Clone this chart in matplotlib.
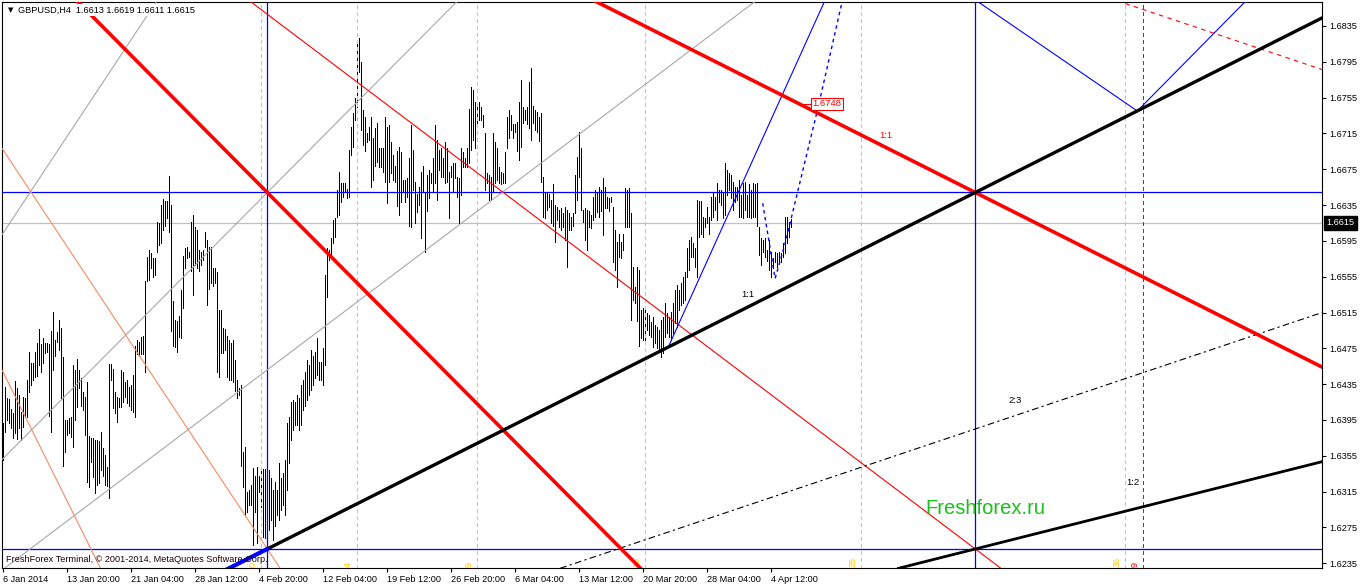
import numpy as np
import matplotlib.pyplot as plt
from matplotlib import transforms

# GBPUSD H4 bars, high / low in pips (price x 10000)
high_pips = [
    16392, 16432, 16419, 16418, 16407, 16403, 16438, 16431, 16423, 16404,
    16421, 16419, 16440, 16471, 16459, 16459, 16471, 16481, 16497, 16480,
    16487, 16481, 16481, 16480, 16494, 16516, 16484, 16493, 16507, 16498,
    16465, 16395, 16395, 16397, 16398, 16456, 16451, 16463, 16451, 16442,
    16426, 16421, 16437, 16377, 16375, 16375, 16373, 16373, 16371, 16382,
    16364, 16356, 16342, 16458, 16458, 16452, 16426, 16421, 16419, 16451,
    16449, 16437, 16440, 16432, 16434, 16445, 16478, 16484, 16482, 16488,
    16489, 16550, 16577, 16585, 16582, 16576, 16576, 16616, 16615, 16635,
    16642, 16639, 16639, 16667, 16635, 16528, 16507, 16505, 16511, 16540,
    16578, 16587, 16588, 16583, 16616, 16624, 16610, 16607, 16585, 16583,
    16585, 16605, 16596, 16588, 16588, 16565, 16565, 16560, 16518, 16518,
    16498, 16497, 16489, 16484, 16481, 16484, 16462, 16440, 16431, 16434,
    16359, 16365, 16315, 16317, 16322, 16341, 16333, 16342, 16332, 16339,
    16340, 16340, 16320, 16339, 16330, 16317, 16326, 16317, 16347, 16330,
    16336, 16350, 16392, 16398, 16415, 16417, 16415, 16423, 16419, 16434,
    16440, 16449, 16462, 16456, 16473, 16467, 16471, 16487, 16460, 16460,
    16475, 16557, 16587, 16585, 16598, 16618, 16621, 16652, 16672, 16660,
    16660, 16660, 16653, 16697, 16722, 16738, 16755, 16819, 16821, 16795,
    16741, 16733, 16715, 16722, 16733, 16710, 16721, 16727, 16699, 16699,
    16699, 16733, 16722, 16724, 16705, 16691, 16679, 16695, 16700, 16694,
    16663, 16663, 16665, 16687, 16724, 16697, 16661, 16647, 16655, 16672,
    16679, 16650, 16669, 16674, 16671, 16687, 16724, 16708, 16697, 16699,
    16687, 16705, 16699, 16672, 16679, 16682, 16682, 16666, 16665, 16699,
    16694, 16687, 16699, 16742, 16767, 16763, 16750, 16744, 16750, 16744,
    16736, 16715, 16671, 16669, 16666, 16715, 16705, 16699, 16677, 16672,
    16671, 16694, 16733, 16741, 16736, 16725, 16725, 16728, 16750, 16775,
    16744, 16741, 16744, 16772, 16788, 16746, 16741, 16739, 16733, 16738,
    16666, 16649, 16650, 16647, 16641, 16658, 16635, 16633, 16630, 16632,
    16626, 16633, 16630, 16626, 16622, 16626, 16669, 16689, 16716, 16699,
    16630, 16632, 16630, 16628, 16624, 16644, 16652, 16649, 16655, 16652,
    16665, 16655, 16644, 16643, 16644, 16633, 16607, 16594, 16603, 16594,
    16603, 16654, 16652, 16654, 16626, 16566, 16543, 16566, 16563, 16518,
    16520, 16518, 16515, 16512, 16504, 16510, 16501, 16499, 16496, 16507,
    16510, 16526, 16515, 16510, 16516, 16526, 16540, 16546, 16540, 16548,
    16555, 16560, 16587, 16596, 16599, 16593, 16587, 16641, 16639, 16639,
    16622, 16621, 16633, 16622, 16644, 16650, 16644, 16660, 16652, 16652,
    16649, 16682, 16674, 16671, 16669, 16661, 16655, 16655, 16663, 16646,
    16660, 16661, 16646, 16658, 16652, 16660, 16658, 16660, 16610, 16598,
    16596, 16598, 16585, 16596, 16583, 16576, 16583, 16582, 16583, 16582,
    16593, 16622, 16622, 16616, 16619,
]
low_pips = [
    16350, 16382, 16395, 16392, 16386, 16375, 16381, 16374, 16386, 16373,
    16387, 16398, 16398, 16426, 16434, 16440, 16443, 16444, 16456, 16449,
    16459, 16470, 16471, 16400, 16382, 16451, 16467, 16482, 16473, 16419,
    16344, 16359, 16378, 16381, 16376, 16365, 16395, 16409, 16431, 16411,
    16406, 16378, 16326, 16320, 16348, 16331, 16314, 16322, 16325, 16339,
    16333, 16322, 16321, 16308, 16440, 16408, 16403, 16393, 16409, 16409,
    16415, 16421, 16414, 16411, 16406, 16404, 16398, 16469, 16467, 16469,
    16469, 16449, 16550, 16551, 16565, 16555, 16557, 16583, 16590, 16593,
    16607, 16612, 16621, 16605, 16494, 16478, 16476, 16471, 16488, 16487,
    16520, 16565, 16576, 16577, 16561, 16534, 16568, 16565, 16561, 16568,
    16574, 16588, 16523, 16541, 16548, 16545, 16548, 16449, 16443, 16470,
    16470, 16473, 16443, 16440, 16440, 16437, 16427, 16419, 16423, 16344,
    16320, 16289, 16292, 16300, 16300, 16255, 16292, 16258, 16315, 16298,
    16264, 16263, 16251, 16272, 16283, 16261, 16277, 16289, 16283, 16295,
    16300, 16289, 16317, 16347, 16373, 16384, 16389, 16389, 16384, 16389,
    16406, 16411, 16417, 16423, 16429, 16434, 16442, 16445, 16440, 16440,
    16434, 16456, 16532, 16574, 16577, 16593, 16599, 16622, 16624, 16638,
    16644, 16649, 16643, 16644, 16691, 16700, 16730, 16744, 16783, 16719,
    16702, 16695, 16705, 16708, 16655, 16663, 16679, 16683, 16678, 16677,
    16672, 16661, 16637, 16661, 16671, 16663, 16661, 16634, 16624, 16638,
    16649, 16638, 16644, 16612, 16610, 16652, 16615, 16627, 16635, 16598,
    16650, 16583, 16628, 16643, 16660, 16650, 16660, 16641, 16674, 16666,
    16666, 16660, 16661, 16621, 16666, 16649, 16665, 16644, 16615, 16646,
    16678, 16677, 16678, 16682, 16697, 16708, 16699, 16722, 16730, 16730,
    16722, 16652, 16660, 16641, 16641, 16650, 16660, 16663, 16660, 16658,
    16660, 16660, 16699, 16710, 16719, 16710, 16716, 16695, 16685, 16700,
    16727, 16730, 16725, 16721, 16708, 16727, 16719, 16716, 16706, 16661,
    16622, 16621, 16630, 16633, 16615, 16612, 16594, 16618, 16610, 16607,
    16610, 16596, 16566, 16607, 16607, 16612, 16626, 16641, 16666, 16630,
    16616, 16596, 16585, 16610, 16609, 16618, 16622, 16627, 16622, 16628,
    16601, 16632, 16632, 16628, 16638, 16571, 16563, 16543, 16577, 16576,
    16585, 16610, 16610, 16610, 16507, 16529, 16526, 16505, 16478, 16487,
    16484, 16481, 16496, 16490, 16488, 16476, 16481, 16475, 16473, 16465,
    16470, 16488, 16492, 16488, 16484, 16492, 16503, 16499, 16518, 16523,
    16526, 16529, 16555, 16563, 16577, 16577, 16566, 16555, 16599, 16603,
    16599, 16610, 16615, 16603, 16618, 16622, 16630, 16618, 16638, 16635,
    16621, 16624, 16646, 16652, 16643, 16630, 16638, 16641, 16622, 16622,
    16621, 16630, 16622, 16622, 16621, 16622, 16622, 16612, 16579, 16568,
    16583, 16577, 16572, 16563, 16555, 16565, 16571, 16566, 16571, 16571,
    16577, 16582, 16593, 16599, 16611,
]

time_labels = ["6 Jan 2014", "13 Jan 20:00", "21 Jan 04:00", "28 Jan 12:00",
               "4 Feb 20:00", "12 Feb 04:00", "19 Feb 12:00", "26 Feb 20:00",
               "6 Mar 04:00", "13 Mar 12:00", "20 Mar 20:00", "28 Mar 04:00",
               "4 Apr 12:00"]
bars_per_label = 32
price_ticks = [1.6835, 1.6795, 1.6755, 1.6715, 1.6675, 1.6635, 1.6595, 1.6555,
               1.6515, 1.6475, 1.6435, 1.6395, 1.6355, 1.6315, 1.6275, 1.6235]

# gann box: 4 Feb low -> 1:1 point
box_start, box_end = 132, 486
box_low, box_high = 1.6251, 1.6649
last_price = 1.6615
header_ohlc = "1.6613 1.6619 1.6611 1.6615"
target_bar, target_price = 404, 1.6748

# time lines (gann squares)
square_bars = [129, 177, 237, 321, 429, 561]
square_labels = ["0", "4", "9", "16", "25", "36"]
red_time_bar, red_time_label = 570, "9"

# other hand drawn lines: (bar, price) anchors, slope in units of k
gray_fan = [((132, 1.6649), 2.0), ((132, 1.6451), 1.5), ((0, 1.6604), 3.0)]
salmon_fan = [((132, 1.6251), -3.0), ((0, 1.6448), -4.0)]
blue_ray_start, blue_ray_slope = (333, 1.6479), 0.000494
blue_path_bars = [379.7, 385.9, 390.9, 407.5, 419.4]
blue_path_prices = [1.6637, 1.6553, 1.6592, 1.6745, 1.6862]
blue_v_bars = [487.3, 567.0, 620.9]
blue_v_prices = [1.6862, 1.6740, 1.6862]
red_dash_start = (561, 1.6860)
dashdot_anchor = (486, 1.6385)

highs = np.array(high_pips) / 1e4
lows = np.array(low_pips) / 1e4
bars = np.arange(len(highs))
k = (box_high - box_low) / (box_end - box_start)

plt.rcParams['font.family'] = ['Liberation Sans', 'DejaVu Sans']
fig = plt.figure(figsize=(13.62, 5.86), dpi=100)
ax = fig.add_axes([2.3 / 1362, 17.7 / 586, 1320 / 1362, 566.6 / 586])
x_lo, x_hi = -0.5, 659.5
y_lo, y_hi = 1.622942, 1.686202
ax.set_xlim(x_lo, x_hi)
ax.set_ylim(y_lo, y_hi)

# price bars
ax.vlines(bars, lows, highs, color='black', lw=0.72, antialiased=False, zorder=2)

red = '#ff0000'
blue = '#0000ff'
gold = '#ffc800'

# horizontal / vertical lines
ax.axhline(last_price, color='#c0c0c0', lw=0.9, zorder=1)
ax.axhline(box_high, color=blue, lw=0.9, zorder=3)
ax.axhline(box_low, color=blue, lw=0.9, zorder=3)
ax.axvline(box_start, color=blue, lw=0.9, zorder=3)
ax.axvline(box_end, color=blue, lw=0.9, zorder=3)
for b, lab in zip(square_bars, square_labels):
    ax.axvline(b, color=gold, lw=0.72, ls=(0, (4, 3)), antialiased=False, zorder=3)
    ax.annotate(lab, (b, y_lo), xytext=(-4, 1), textcoords='offset pixels',
                rotation=90, ha='right', va='bottom', color=gold, fontsize=6.5)
ax.axvline(red_time_bar, color=red, lw=0.72, ls=(0, (4, 3)), antialiased=False,
           zorder=3)
ax.annotate(red_time_label, (red_time_bar, y_lo), xytext=(-4, 1),
            textcoords='offset pixels', rotation=90, ha='right', va='bottom',
            color=red, fontsize=6.5)

# gann lines
for (x0, y0), s in gray_fan:
    ax.axline((x0, y0), slope=s * k, color='#a8a8a8', lw=0.8, zorder=3)
for (x0, y0), s in salmon_fan:
    ax.axline((x0, y0), slope=s * k, color='#f58a64', lw=0.8, zorder=3)
ax.axline((box_start, box_high), slope=-2 * k, color=red, lw=2.6, zorder=4)
ax.axline((box_end, box_high), slope=-k, color=red, lw=2.6, zorder=4)
ax.axline((box_end, box_low), slope=-1.5 * k, color=red, lw=0.8, zorder=3)
ax.axline((box_end, box_low), slope=0.5 * k, color='black', lw=2.0, zorder=4)
ax.axline(dashdot_anchor, slope=2 / 3 * k, color='black', lw=0.8,
          ls=(0, (6, 3, 2, 3)), zorder=3)

xs = np.array([box_start, x_hi])
ax.plot(xs, box_low + k * (xs - box_start), color='black', lw=2.4, zorder=4)
xs = np.array([box_start - 30, box_start])
ax.plot(xs, box_low + k * (xs - box_start), color=blue, lw=3.0, zorder=4)

xs = np.array([blue_ray_start[0], 430])
ax.plot(xs, blue_ray_start[1] + blue_ray_slope * (xs - blue_ray_start[0]),
        color=blue, lw=0.8, zorder=3)
ax.plot(blue_path_bars, blue_path_prices, color=blue, lw=1.0, ls=(0, (2.5, 2.5)),
        zorder=3)
ax.plot(blue_v_bars, blue_v_prices, color=blue, lw=0.8, zorder=3)
xs = np.array([red_dash_start[0], x_hi])
ax.plot(xs, red_dash_start[1] - 2 / 3 * k * (xs - red_dash_start[0]),
        color=red, lw=0.8, ls=(0, (4, 4)), zorder=3)

# price label 1.6748
ax.plot([target_bar - 4, target_bar], [target_price, target_price], color=red,
        lw=0.8, zorder=5)
ax.text(target_bar + 0.5, target_price, "1.6748", color=red, fontsize=6.8,
        ha='left', va='center', zorder=6,
        bbox=dict(boxstyle='square,pad=0.15', fc='white', ec=red, lw=0.8))

# ratio labels
ax.text(441.3, 1.6713, "1:1", color=red, fontsize=6.8, ha='center', va='center')
ax.text(372.3, 1.6535, "1:1", color='black', fontsize=6.8, ha='center', va='center')
ax.text(505.8, 1.6417, "2:3", color='black', fontsize=6.8, ha='center', va='center')
ax.text(564.8, 1.6325, "1:2", color='black', fontsize=6.8, ha='center', va='center')
ax.text(490.8, 1.6296, "Freshforex.ru", color='#1cbf1c', fontsize=14.5,
        ha='center', va='center')

# header and copyright
ax.text(0.0045, 0.9854, "\u25bc", transform=ax.transAxes, fontsize=5,
        family='DejaVu Sans', va='center', ha='left', zorder=7)
ax.text(0.0119, 0.9854, "GBPUSD,H4  " + header_ohlc, transform=ax.transAxes,
        fontsize=6.6, va='center', ha='left', zorder=7,
        bbox=dict(boxstyle='square,pad=0.15', fc='white', ec='none'))
ax.text(0.0028, 0.0147, "FreshForex Terminal, \u00a9 2001-2014, MetaQuotes Software Corp.",
        transform=ax.transAxes, fontsize=6.6, va='center', ha='left',
        color='#200000', zorder=7)

# axes
ax.set_xticks(range(0, bars_per_label * len(time_labels), bars_per_label))
ax.set_xticklabels(time_labels, ha='left', fontsize=6.6)
ax.yaxis.tick_right()
ax.set_yticks(price_ticks)
ax.set_yticklabels([f"{p:.4f}" for p in price_ticks], fontsize=6.6)
ax.tick_params(axis='x', length=3, width=0.8, pad=1.5)
ax.tick_params(axis='y', length=3, width=0.8, pad=2)
for sp in ax.spines.values():
    sp.set_linewidth(0.8)

# current price box
trans = transforms.blended_transform_factory(ax.transAxes, ax.transData)
ax.text(1.003, last_price, "1.6615", transform=trans, color='white', fontsize=6.6,
        ha='left', va='center', zorder=8,
        bbox=dict(boxstyle='square,pad=0.3', fc='black', ec='black'))

fig.savefig('out.png', dpi=100)
